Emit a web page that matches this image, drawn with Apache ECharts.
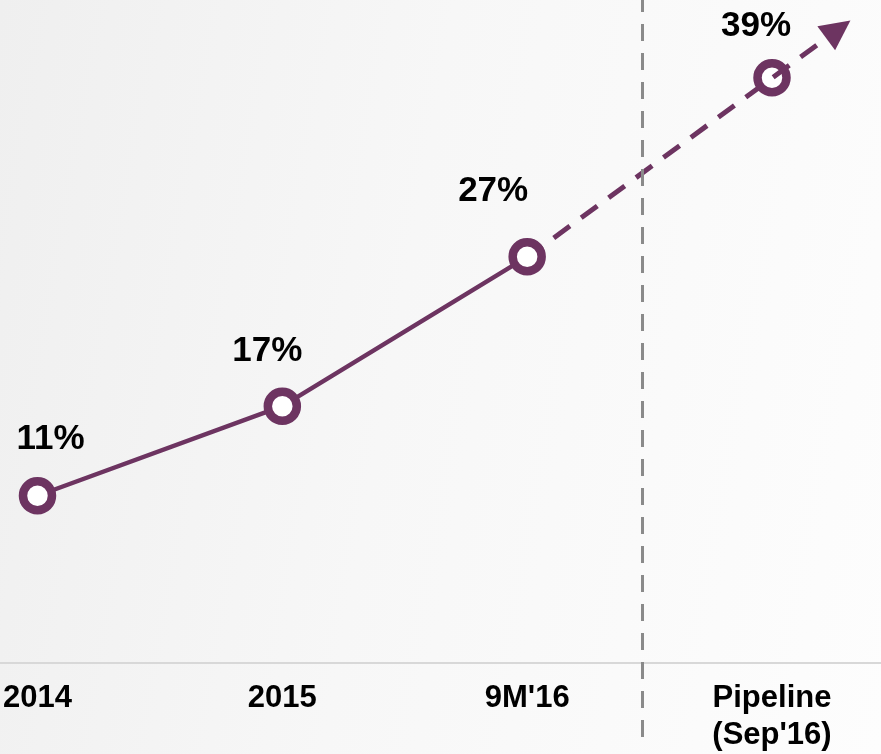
<!DOCTYPE html>
<html>
<head>
<meta charset="utf-8">
<title>Share trend</title>
<script src="https://cdn.jsdelivr.net/npm/echarts@6/dist/echarts.min.js"></script>
<style>
  html, body { margin: 0; padding: 0; }
  body {
    width: 881px; height: 754px; overflow: hidden;
    background: linear-gradient(100deg, #efefef 0%, #f7f7f7 45%, #fdfdfd 100%);
  }
  #chart { width: 881px; height: 754px; }
</style>
</head>
<body>
<div id="chart"></div>
<script>
// Periods on the horizontal axis
const categories = ['2014', '2015', "9M'16", "Pipeline\n(Sep'16)"];
// Share values (%) for each period
const shareValues = [11, 17, 27, 39];
// Number of actual (non-projected) periods
const actualCount = 3;

// Layout and style settings
const PURPLE = '#6d3461';
const PX_PER_UNIT = 15;          // vertical pixels per percentage point
const AXIS_Y = 663;              // pixel row of the zero line
const CHART_H = 754;
const PLOT_LEFT = 35, PLOT_RIGHT = 109;
const STEP = (881 - PLOT_LEFT - PLOT_RIGHT) / (categories.length - 1);
const dividerAt = 2.467;         // position of the vertical separator (in category steps)
const arrowReach = 0.27;         // how far the projection arrow runs past the last point
const labelOffsets = [[13, -56], [-15, -55], [-34, -65], [-16, -51]];

const yMaxTop = AXIS_Y / PX_PER_UNIT;
const fullBottom = 17;
const yMinFull = -(CHART_H - fullBottom - AXIS_Y) / PX_PER_UNIT;

const lastIdx = shareValues.length - 1;
const slope = shareValues[lastIdx] - shareValues[lastIdx - 1];
const trendStart = [lastIdx - 1, shareValues[lastIdx - 1]];
const trendEnd = [lastIdx + arrowReach, shareValues[lastIdx] + arrowReach * slope];

function pointItem(v, i) {
  return {
    value: v,
    label: { offset: labelOffsets[i] }
  };
}

const markerStyle = {
  symbol: 'circle',
  symbolSize: 29,
  itemStyle: { color: '#ffffff', borderColor: PURPLE, borderWidth: 8.5 }
};

const valueLabel = {
  show: true,
  position: 'inside',
  formatter: '{c}%',
  color: '#000',
  fontFamily: 'Liberation Sans, Arial, sans-serif',
  fontWeight: 'bold',
  fontSize: 35
};

const chart = echarts.init(document.getElementById('chart'), null, { renderer: 'canvas' });

chart.setOption({
  animation: false,
  backgroundColor: 'transparent',
  grid: [
    { left: PLOT_LEFT, right: PLOT_RIGHT, top: 0, bottom: CHART_H - AXIS_Y, containLabel: false },
    { left: 0, right: 0, top: 0, bottom: fullBottom, containLabel: false }
  ],
  xAxis: [
    {
      type: 'category',
      gridIndex: 0,
      data: categories,
      boundaryGap: false,
      axisLine: { show: false },
      axisTick: { show: false },
      splitLine: { show: false },
      axisLabel: {
        interval: 0,
        margin: 20,
        color: '#000',
        fontFamily: 'Liberation Sans, Arial, sans-serif',
        fontWeight: 'bold',
        fontSize: 31,
        lineHeight: 37
      }
    },
    {
      type: 'value',
      gridIndex: 1,
      min: -PLOT_LEFT / STEP,
      max: lastIdx + PLOT_RIGHT / STEP,
      axisLine: { show: true, onZero: true, lineStyle: { color: '#d8d8d8', width: 2 } },
      axisTick: { show: false },
      axisLabel: { show: false },
      splitLine: { show: false }
    }
  ],
  yAxis: [
    { type: 'value', gridIndex: 0, min: 0, max: yMaxTop, show: false },
    { type: 'value', gridIndex: 1, min: yMinFull, max: yMaxTop, show: false }
  ],
  series: [
    {
      // vertical separator between actuals and pipeline
      type: 'line',
      xAxisIndex: 1, yAxisIndex: 1,
      data: [],
      z: 1,
      markLine: {
        silent: true,
        symbol: 'none',
        label: { show: false },
        lineStyle: { color: '#8a8a8a', width: 3, type: [17, 12] },
        data: [{ xAxis: dividerAt }]
      }
    },
    {
      // pipeline marker (sits under the projection line)
      type: 'line',
      xAxisIndex: 0, yAxisIndex: 0,
      data: shareValues.map((v, i) => i >= actualCount ? pointItem(v, i) : '-'),
      lineStyle: { width: 0 },
      ...markerStyle,
      showSymbol: true,
      label: valueLabel,
      z: 2
    },
    {
      // dashed projection with arrow head
      type: 'lines',
      coordinateSystem: 'cartesian2d',
      xAxisIndex: 1, yAxisIndex: 1,
      polyline: false,
      symbol: ['none', 'triangle'],
      symbolSize: [26, 30],
      lineStyle: { color: PURPLE, width: 5, type: [20, 14], opacity: 1 },
      data: [{ coords: [trendStart, trendEnd] }],
      z: 3
    },
    {
      // actual values
      type: 'line',
      xAxisIndex: 0, yAxisIndex: 0,
      data: shareValues.map((v, i) => i < actualCount ? pointItem(v, i) : '-'),
      lineStyle: { color: PURPLE, width: 4.5 },
      ...markerStyle,
      showSymbol: true,
      label: valueLabel,
      z: 4
    }
  ]
});
</script>
</body>
</html>
